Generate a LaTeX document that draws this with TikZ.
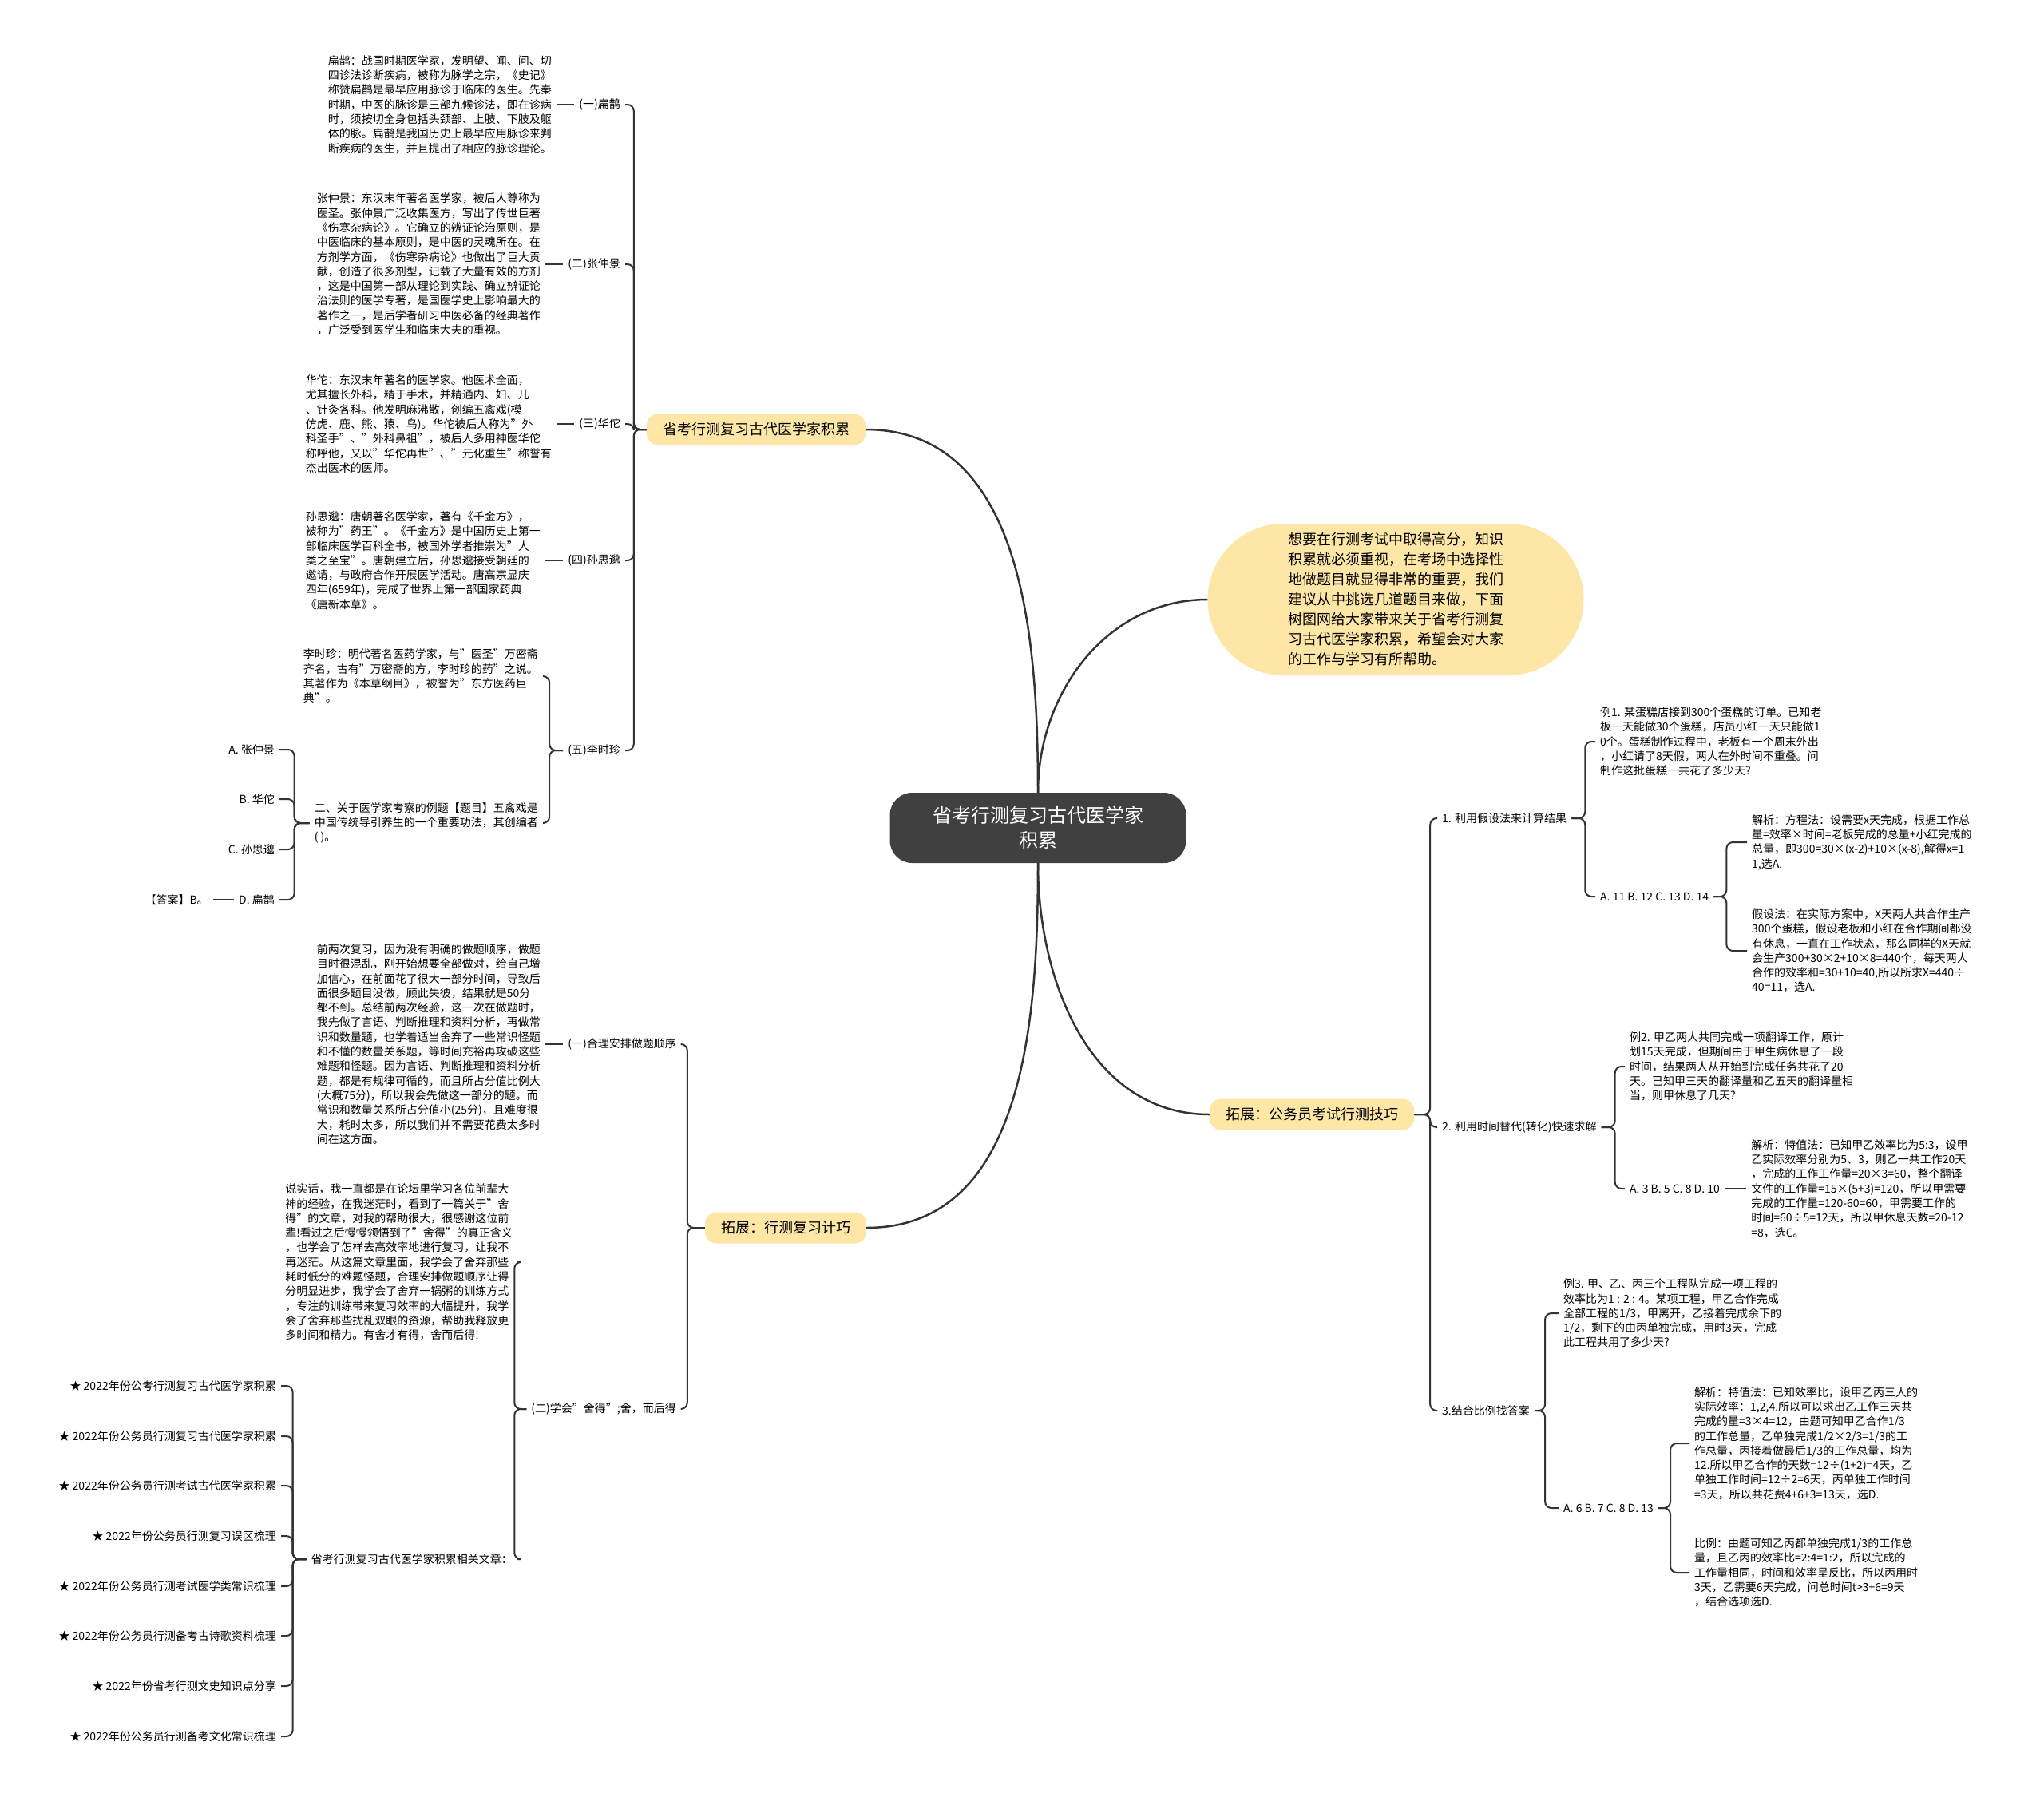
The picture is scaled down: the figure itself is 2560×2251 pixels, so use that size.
\documentclass[tikz,border=0pt]{standalone}
\usepackage{fontspec}
\setmainfont{Noto Sans CJK SC}
\usetikzlibrary{positioning}
\definecolor{rootgray}{HTML}{404040}
\definecolor{topicyellow}{HTML}{FDE6A6}
\definecolor{linegray}{HTML}{333333}

\begin{document}
\begin{tikzpicture}[x=1pt, y=-1pt,
      root/.style={fill=rootgray, text=white, rounded corners=28pt, minimum width=371pt, minimum height=88pt,
                   align=center, font=\fontsize{24}{31}\selectfont},
      topic/.style={fill=topicyellow, rounded corners=14pt, minimum height=39pt, inner xsep=20pt,
                    font=\fontsize{18}{22}\selectfont},
      bubble/.style={fill=topicyellow, rounded corners=95pt, minimum width=471pt, minimum height=190pt,
                     align=left, font=\fontsize{18}{25}\selectfont},
      txt/.style={align=left, inner sep=6pt, font=\fontsize{14}{18.3}\selectfont},
      lbl/.style={inner sep=6pt, font=\fontsize{14}{17}\selectfont},
      lnk/.style={draw=linegray, line width=2pt, rounded corners=8pt},
      curve/.style={draw=linegray, line width=2.5pt},
   ]
   \fill[white] (0,0) rectangle (2560,2251);
   \useasboundingbox (0,0) rectangle (2560,2251);

   % centre and main topics
   \node[root] (root) at (1300,1037) {省考行测复习古代医学家\\积累};
   \node[topic] (gudai) at (947,538) {省考行测复习古代医学家积累};
   \node[bubble] (intro) at (1748,751) {想要在行测考试中取得高分，知识\\积累就必须重视，在考场中选择性\\地做题目就显得非常的重要，我们\\建议从中挑选几道题目来做，下面\\树图网给大家带来关于省考行测复\\习古代医学家积累，希望会对大家\\的工作与学习有所帮助。};
   \node[topic] (jiqiao) at (1643,1396) {拓展：公务员考试行测技巧};
   \node[topic] (fuxi) at (984,1538) {拓展：行测复习计巧};

   \draw[curve] (root.north) to[out=90, in=0] (gudai.east);
   \draw[curve] (root.north) to[out=90, in=180] (intro.west);
   \draw[curve] (root.south) to[out=-90, in=180] (jiqiao.west);
   \draw[curve] (root.south) to[out=-90, in=0] (fuxi.east);

   % ancient doctors
   \node[lbl, anchor=east] (bianque) at (783,131) {(一)扁鹊};
   \node[lbl, anchor=east] (zhang) at (783,331) {(二)张仲景};
   \node[lbl, anchor=east] (huatuo) at (783,531) {(三)华佗};
   \node[lbl, anchor=east] (sun) at (783,702) {(四)孙思邈};
   \node[lbl, anchor=east] (li) at (783,940) {(五)李时珍};

   \node[txt, left=22pt of bianque] (bianquetxt) {扁鹊：战国时期医学家，发明望、闻、问、切\\四诊法诊断疾病，被称为脉学之宗，《史记》\\称赞扁鹊是最早应用脉诊于临床的医生。先秦\\时期，中医的脉诊是三部九候诊法，即在诊病\\时，须按切全身包括头颈部、上肢、下肢及躯\\体的脉。扁鹊是我国历史上最早应用脉诊来判\\断疾病的医生，并且提出了相应的脉诊理论。};
   \node[txt, left=22pt of zhang] (zhangtxt) {张仲景：东汉末年著名医学家，被后人尊称为\\医圣。张仲景广泛收集医方，写出了传世巨著\\《伤寒杂病论》。它确立的辨证论治原则，是\\中医临床的基本原则，是中医的灵魂所在。在\\方剂学方面，《伤寒杂病论》也做出了巨大贡\\献，创造了很多剂型，记载了大量有效的方剂\\，这是中国第一部从理论到实践、确立辨证论\\治法则的医学专著，是国医学史上影响最大的\\著作之一，是后学者研习中医必备的经典著作\\，广泛受到医学生和临床大夫的重视。};
   \node[txt, left=22pt of huatuo] (huatuotxt) {华佗：东汉末年著名的医学家。他医术全面，\\尤其擅长外科，精于手术，并精通内、妇、儿\\、针灸各科。他发明麻沸散，创编五禽戏(模\\仿虎、鹿、熊、猿、鸟)。华佗被后人称为"外\\科圣手"、"外科鼻祖"，被后人多用神医华佗\\称呼他，又以"华佗再世"、"元化重生"称誉有\\杰出医术的医师。};
   \node[txt, left=22pt of sun] (suntxt) {孙思邈：唐朝著名医学家，著有《千金方》，\\被称为"药王"。《千金方》是中国历史上第一\\部临床医学百科全书，被国外学者推崇为"人\\类之至宝"。唐朝建立后，孙思邈接受朝廷的\\邀请，与政府合作开展医学活动。唐高宗显庆\\四年(659年)，完成了世界上第一部国家药典\\《唐新本草》。};
   \node[txt, anchor=east] (litxt) at (680,847) {李时珍：明代著名医药学家，与"医圣"万密斋\\齐名，古有"万密斋的方，李时珍的药"之说。\\其著作为《本草纲目》，被誉为"东方医药巨\\典"。};
   \node[txt, anchor=east] (question) at (680,1031) {二、关于医学家考察的例题【题目】五禽戏是\\中国传统导引养生的一个重要功法，其创编者\\( )。};

   \node[lbl, anchor=east] (qa) at (350,939) {A. 张仲景};
   \node[lbl, anchor=east] (qb) at (350,1001) {B. 华佗};
   \node[lbl, anchor=east] (qc) at (350,1064) {C. 孙思邈};
   \node[lbl, anchor=east] (qd) at (350,1127) {D. 扁鹊};
   \node[lbl, left=26pt of qd] (answer) {【答案】B。};

   \draw[lnk] (gudai.west) -- ++(-16,0) |- (bianque.east);
   \draw[lnk] (gudai.west) -- ++(-16,0) |- (zhang.east);
   \draw[lnk] (gudai.west) -- ++(-16,0) |- (huatuo.east);
   \draw[lnk] (gudai.west) -- ++(-16,0) |- (sun.east);
   \draw[lnk] (gudai.west) -- ++(-16,0) |- (li.east);
   \draw[lnk] (bianquetxt) -- (bianque);
   \draw[lnk] (zhangtxt) -- (zhang);
   \draw[lnk] (huatuotxt) -- (huatuo);
   \draw[lnk] (suntxt) -- (sun);
   \draw[lnk] (li.west) -- ++(-17,0) |- (litxt.east);
   \draw[lnk] (li.west) -- ++(-17,0) |- (question.east);
   \draw[lnk] (question.west) -- ++(-19,0) |- (qa.east);
   \draw[lnk] (question.west) -- ++(-19,0) |- (qb.east);
   \draw[lnk] (question.west) -- ++(-19,0) |- (qc.east);
   \draw[lnk] (question.west) -- ++(-19,0) |- (qd.east);
   \draw[lnk] (qd) -- (answer);

   % review tips
   \node[lbl, anchor=east] (order) at (853,1308) {(一)合理安排做题顺序};
   \node[lbl, anchor=east] (shede) at (853,1765) {(二)学会"舍得";舍，而后得};
   \node[txt, left=22pt of order] (ordertxt) {前两次复习，因为没有明确的做题顺序，做题\\目时很混乱，刚开始想要全部做对，给自己增\\加信心，在前面花了很大一部分时间，导致后\\面很多题目没做，顾此失彼，结果就是50分\\都不到。总结前两次经验，这一次在做题时，\\我先做了言语、判断推理和资料分析，再做常\\识和数量题，也学着适当舍弃了一些常识怪题\\和不懂的数量关系题，等时间充裕再攻破这些\\难题和怪题。因为言语、判断推理和资料分析\\题，都是有规律可循的，而且所占分值比例大\\(大概75分)，所以我会先做这一部分的题。而\\常识和数量关系所占分值小(25分)，且难度很\\大，耗时太多，所以我们并不需要花费太多时\\间在这方面。};
   \node[txt, anchor=east] (shedetxt) at (648,1581) {说实话，我一直都是在论坛里学习各位前辈大\\神的经验，在我迷茫时，看到了一篇关于"舍\\得"的文章，对我的帮助很大，很感谢这位前\\辈!看过之后慢慢领悟到了"舍得"的真正含义\\，也学会了怎样去高效率地进行复习，让我不\\再迷茫。从这篇文章里面，我学会了舍弃那些\\耗时低分的难题怪题，合理安排做题顺序让得\\分明显进步，我学会了舍弃一锅粥的训练方式\\，专注的训练带来复习效率的大幅提升，我学\\会了舍弃那些扰乱双眼的资源，帮助我释放更\\多时间和精力。有舍才有得，舍而后得!};
   \node[lbl, anchor=east] (related) at (648,1953) {省考行测复习古代医学家积累相关文章：};

   \node[lbl, anchor=east] (art1) at (352,1736) {★ 2022年份公考行测复习古代医学家积累};
   \node[lbl, anchor=east] (art2) at (352,1799) {★ 2022年份公务员行测复习古代医学家积累};
   \node[lbl, anchor=east] (art3) at (352,1861) {★ 2022年份公务员行测考试古代医学家积累};
   \node[lbl, anchor=east] (art4) at (352,1924) {★ 2022年份公务员行测复习误区梳理};
   \node[lbl, anchor=east] (art5) at (352,1987) {★ 2022年份公务员行测考试医学类常识梳理};
   \node[lbl, anchor=east] (art6) at (352,2049) {★ 2022年份公务员行测备考古诗歌资料梳理};
   \node[lbl, anchor=east] (art7) at (352,2112) {★ 2022年份省考行测文史知识点分享};
   \node[lbl, anchor=east] (art8) at (352,2175) {★ 2022年份公务员行测备考文化常识梳理};

   \draw[lnk] (fuxi.west) -- ++(-22,0) |- (order.east);
   \draw[lnk] (fuxi.west) -- ++(-22,0) |- (shede.east);
   \draw[lnk] (ordertxt) -- (order);
   \draw[lnk] (shede.west) -- ++(-15,0) |- (shedetxt.east);
   \draw[lnk] (shede.west) -- ++(-15,0) |- (related.east);
   \draw[lnk] (related.west) -- ++(-17,0) |- (art1.east);
   \draw[lnk] (related.west) -- ++(-17,0) |- (art2.east);
   \draw[lnk] (related.west) -- ++(-17,0) |- (art3.east);
   \draw[lnk] (related.west) -- ++(-17,0) |- (art4.east);
   \draw[lnk] (related.west) -- ++(-17,0) |- (art5.east);
   \draw[lnk] (related.west) -- ++(-17,0) |- (art6.east);
   \draw[lnk] (related.west) -- ++(-17,0) |- (art7.east);
   \draw[lnk] (related.west) -- ++(-17,0) |- (art8.east);

   % exam skills
   \node[lbl, anchor=west] (skill1) at (1800,1025) {1. 利用假设法来计算结果};
   \node[lbl, anchor=west] (skill2) at (1800,1412) {2. 利用时间替代(转化)快速求解};
   \node[lbl, anchor=west] (skill3) at (1800,1767) {3.结合比例找答案};

   \node[txt, anchor=west] (ex1) at (1998,929) {例1. 某蛋糕店接到300个蛋糕的订单。已知老\\板一天能做30个蛋糕，店员小红一天只能做1\\0个。蛋糕制作过程中，老板有一个周末外出\\，小红请了8天假，两人在外时间不重叠。问\\制作这批蛋糕一共花了多少天?};
   \node[lbl, anchor=west] (opt1) at (1998,1123) {A. 11 B. 12 C. 13 D. 14};
   \node[txt, anchor=west] (sol1a) at (2188,1055) {解析：方程法：设需要x天完成，根据工作总\\量=效率×时间=老板完成的总量+小红完成的\\总量，即300=30×(x-2)+10×(x-8),解得x=1\\1,选A.};
   \node[txt, anchor=west] (sol1b) at (2188,1191) {假设法：在实际方案中，X天两人共合作生产\\300个蛋糕，假设老板和小红在合作期间都没\\有休息，一直在工作状态，那么同样的X天就\\会生产300+30×2+10×8=440个，每天两人\\合作的效率和=30+10=40,所以所求X=440÷\\40=11，选A.};

   \node[txt, anchor=west] (ex2) at (2035,1336) {例2. 甲乙两人共同完成一项翻译工作，原计\\划15天完成，但期间由于甲生病休息了一段\\时间，结果两人从开始到完成任务共花了20\\天。已知甲三天的翻译量和乙五天的翻译量相\\当，则甲休息了几天?};
   \node[lbl, anchor=west] (opt2) at (2035,1489) {A. 3 B. 5 C. 8 D. 10};
   \node[txt, right=27pt of opt2] (sol2) {解析：特值法：已知甲乙效率比为5:3，设甲\\乙实际效率分别为5、3，则乙一共工作20天\\，完成的工作工作量=20×3=60，整个翻译\\文件的工作量=15×(5+3)=120，所以甲需要\\完成的工作量=120-60=60，甲需要工作的\\时间=60÷5=12天，所以甲休息天数=20-12\\=8，选C。};

   \node[txt, anchor=west] (ex3) at (1952,1645) {例3. 甲、乙、丙三个工程队完成一项工程的\\效率比为1 : 2 : 4。某项工程，甲乙合作完成\\全部工程的1/3，甲离开，乙接着完成余下的\\1/2，剩下的由丙单独完成，用时3天，完成\\此工程共用了多少天?};
   \node[lbl, anchor=west] (opt3) at (1952,1889) {A. 6 B. 7 C. 8 D. 13};
   \node[txt, anchor=west] (sol3a) at (2116,1808) {解析：特值法：已知效率比，设甲乙丙三人的\\实际效率：1,2,4.所以可以求出乙工作三天共\\完成的量=3×4=12，由题可知甲乙合作1/3\\的工作总量，乙单独完成1/2×2/3=1/3的工\\作总量，丙接着做最后1/3的工作总量，均为\\12.所以甲乙合作的天数=12÷(1+2)=4天，乙\\单独工作时间=12÷2=6天，丙单独工作时间\\=3天，所以共花费4+6+3=13天，选D.};
   \node[txt, anchor=west] (sol3b) at (2116,1970) {比例：由题可知乙丙都单独完成1/3的工作总\\量，且乙丙的效率比=2:4=1:2，所以完成的\\工作量相同，时间和效率呈反比，所以丙用时\\3天，乙需要6天完成，问总时间t>3+6=9天\\，结合选项选D.};

   \draw[lnk] (jiqiao.east) -- ++(20,0) |- (skill1.west);
   \draw[lnk] (jiqiao.east) -- ++(20,0) |- (skill2.west);
   \draw[lnk] (jiqiao.east) -- ++(20,0) |- (skill3.west);
   \draw[lnk] (skill1.east) -- ++(17,0) |- (ex1.west);
   \draw[lnk] (skill1.east) -- ++(17,0) |- (opt1.west);
   \draw[lnk] (opt1.east) -- ++(16,0) |- (sol1a.west);
   \draw[lnk] (opt1.east) -- ++(16,0) |- (sol1b.west);
   \draw[lnk] (skill2.east) -- ++(17,0) |- (ex2.west);
   \draw[lnk] (skill2.east) -- ++(17,0) |- (opt2.west);
   \draw[lnk] (opt2) -- (sol2);
   \draw[lnk] (skill3.east) -- ++(13,0) |- (ex3.west);
   \draw[lnk] (skill3.east) -- ++(13,0) |- (opt3.west);
   \draw[lnk] (opt3.east) -- ++(15,0) |- (sol3a.west);
   \draw[lnk] (opt3.east) -- ++(15,0) |- (sol3b.west);
\end{tikzpicture}
\end{document}
